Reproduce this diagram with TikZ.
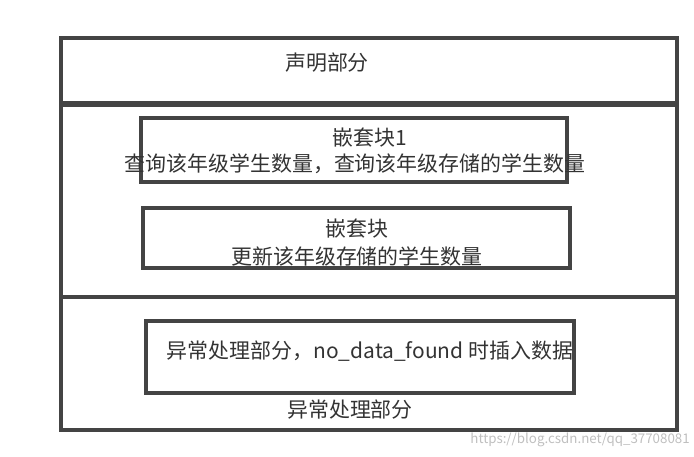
\documentclass[tikz,border=0pt]{standalone}
\usepackage{fontspec}
\setmainfont{Noto Sans CJK SC}
\usetikzlibrary{positioning}
\definecolor{edge}{HTML}{444444}
\definecolor{ink}{HTML}{333333}
\begin{document}
\begin{tikzpicture}[x=0.75pt,y=-0.75pt,
    block/.style={draw=edge, line width=2.6pt},
    label/.style={text=ink, font=\fontsize{15.7pt}{18pt}\selectfont, inner sep=0pt, align=center},
]
\useasboundingbox (0,0) rectangle (694,457);

% Outer parts
\draw [block] (61,38) rectangle (677,103);
\draw [block] (61,105) rectangle (677,297);
\draw [block] (61,297) rectangle (677,430);

% Inner blocks
\draw [block] (141,118) rectangle (567,182);
\draw [block] (143,208) rectangle (570,268);
\draw [block] (146,321) rectangle (574,393);

% Texts
\node (decl) [label] at (327,63) {声明部分};
\node (nest1) [label] at (370,138) {嵌套块1};
\node (query) [label] at (355,164) {查询该年级学生数量，查询该年级存储的学生数量};
\node (nest2) [label] at (357,229) {嵌套块};
\node (update) [label] at (357,256) {更新该年级存储的学生数量};
\node (handler) [label] at (370,351) {异常处理部分，no\_data\_found 时插入数据};
\node (except) [label] at (350,410) {异常处理部分};
\node (mark) [text=black!25, font=\fontsize{10pt}{12pt}\selectfont, inner sep=0pt, anchor=east] at (690,440) {https://blog.csdn.net/qq\_37708081};
\end{tikzpicture}
\end{document}
